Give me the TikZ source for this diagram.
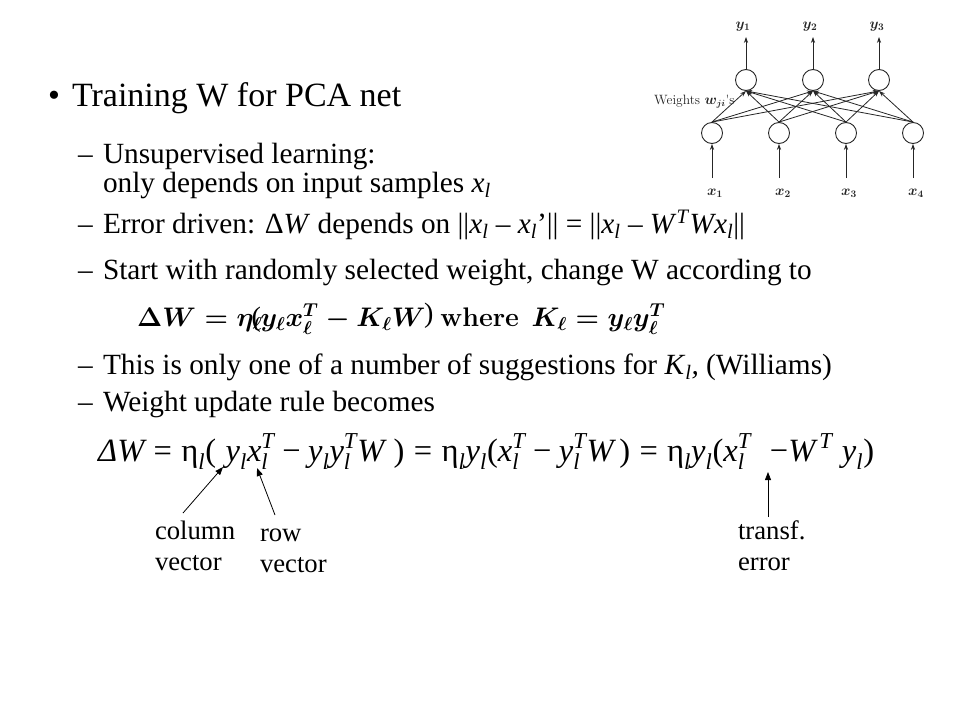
\documentclass[tikz,border=0pt]{standalone}
\usepackage[no-math]{fontspec}
\setmainfont{Liberation Serif}
\usepackage{amsmath,bm}
\usepackage{graphicx}
\usetikzlibrary{arrows.meta}
\newcommand\tmi[1]{\text{\normalfont\itshape #1}}
\newcommand\tmr[1]{\text{\normalfont #1}}
\newcommand\sbl{_{\tmi{l}}}
\newcommand\xsub{\textit{x}\textsubscript{\textit{l}}}
\definecolor{netc}{gray}{0.15}
\tikzset{
  txt/.style={anchor=base west, inner sep=0pt, outer sep=0pt, font=\fontsize{29.3}{34}\selectfont},
  ttl/.style={txt, font=\fontsize{34}{40}\selectfont},
  ann/.style={txt, font=\fontsize{26.7}{31}\selectfont},
  neuron/.style={circle, draw=netc, line width=0.9pt, minimum size=21pt, inner sep=0pt},
  netarrow/.style={draw=netc, line width=0.8pt, -{Stealth[length=6pt,width=4.2pt]}},
  netlab/.style={inner sep=0pt, text=netc, font=\fontsize{14}{16}\selectfont},
  annarrow/.style={draw=black, line width=0.8pt, -{Triangle[length=8pt,width=6pt]}}
}
\begin{document}
\begin{tikzpicture}[x=1pt,y=-1pt]
\fill[white] (0,0) rectangle (960,720);
\useasboundingbox (0,0) rectangle (960,720);

% ---- title and bullets
\node[ttl] (bul) at (48,106) {•};
\node[ttl] (title) at (72,106) {Training W for PCA net};

\node[txt] (d1) at (78,163) {–};
\node[txt] (t1) at (103,163) {Unsupervised learning:};
\node[txt] (t1b) at (103,192) {only depends on input samples \xsub};
\node[txt] (d2) at (78,233) {–};
\node[txt] (t2) at (103,233) {Error driven: Δ\textit{W} depends on ||\xsub{} – \xsub’|| = ||\xsub{} – \textit{W}\textsuperscript{\textit{T}}\textit{Wx}\textsubscript{\textit{l}}||};
\node[txt] (d3) at (78,279) {–};
\node[txt] (t3) at (103,279) {Start with randomly selected weight, change W according to};

\node[anchor=base west, inner sep=0pt] (f1) at (137,326) {\resizebox{528pt}{!}{\fontsize{26}{30}\selectfont\boldmath
 $\Delta W = \eta_\ell\kern-0.38em\text{\normalfont(}\kern-0.02em y_\ell x_\ell^T - K_\ell W\kern-0.05em\raisebox{0.12em}{\normalfont)}$\hspace{0.25em}$\mathbf{where}$\hspace{0.45em}$K_\ell = y_\ell y_\ell^T$}};

\node[txt] (d4) at (78,374) {–};
\node[txt] (t4) at (103,374) {This is only one of a number of suggestions for \textit{K}\textsubscript{\textit{l}}\textit{,} (Williams)};
\node[txt] (d5) at (78,411) {–};
\node[txt] (t5) at (103,411) {Weight update rule becomes};

\node[anchor=base west, inner sep=0pt] (f2) at (98,461) {\resizebox{776pt}{!}{\fontsize{24}{28}\selectfont
 $\tmi{Δ}\tmi{W} \mathrel{\tmr{=}} \tmr{η}\sbl\tmr{(}\;\tmi{y}\sbl\tmi{x}\sbl^{\tmi{T}} \mathbin{\tmr{−}} \tmi{y}\sbl\tmi{y}\sbl^{\tmi{T}}\tmi{W}\;\tmr{)} \mathrel{\tmr{=}} \tmr{η}\sbl\tmi{y}\sbl\tmr{(}\tmi{x}\sbl^{\tmi{T}} \mathbin{\tmr{−}} \tmi{y}\sbl^{\tmi{T}}\tmi{W}\,\tmr{)} \mathrel{\tmr{=}} \tmr{η}\sbl\tmi{y}\sbl\tmr{(}\tmi{x}\sbl^{\tmi{T}}\;\;\tmr{−}\tmi{W}^{\,\tmi{T}}\;\tmi{y}\sbl\tmr{)}$}};

% ---- annotations
\node[ann] (col1) at (155,539) {column};
\node[ann] (col2) at (155,570) {vector};
\node[ann] (row1) at (260,541) {row};
\node[ann] (row2) at (260,572) {vector};
\node[ann] (tr1) at (738,539) {transf.};
\node[ann] (tr2) at (738,570) {error};
\coordinate (colT) at (183,513);
\coordinate (colH) at (223,467);
\coordinate (rowT) at (275,515);
\coordinate (rowH) at (257,468);
\coordinate (trT) at (768,517);
\coordinate (trH) at (768,472);
\draw[annarrow] (colT) -- (colH);
\draw[annarrow] (rowT) -- (rowH);
\draw[annarrow] (trT) -- (trH);

% ---- network
\node[neuron] (o1) at (746,80) {};
\node[neuron] (o2) at (813,80) {};
\node[neuron] (o3) at (879,80) {};
\node[neuron] (i1) at (712,133) {};
\node[neuron] (i2) at (779,133) {};
\node[neuron] (i3) at (846,133) {};
\node[neuron] (i4) at (913,133) {};
\foreach \i in {1,2,3,4}{\foreach \j in {1,2,3}{\draw[netarrow] (i\i.north) -- (o\j.south);}}
\node[netlab] (y1) at (743,27) {$\bm{y_1}$};
\node[netlab] (y2) at (810,27) {$\bm{y_2}$};
\node[netlab] (y3) at (877,27) {$\bm{y_3}$};
\coordinate (ya1) at (746,37);
\coordinate (ya2) at (813,37);
\coordinate (ya3) at (879,37);
\draw[netarrow] (o1.north) -- (ya1);
\draw[netarrow] (o2.north) -- (ya2);
\draw[netarrow] (o3.north) -- (ya3);
\node[netlab] (x1) at (715,193) {$\bm{x_1}$};
\node[netlab] (x2) at (783,193) {$\bm{x_2}$};
\node[netlab] (x3) at (849,193) {$\bm{x_3}$};
\node[netlab] (x4) at (916,193) {$\bm{x_4}$};
\coordinate (xa1) at (712,178);
\coordinate (xa2) at (779,178);
\coordinate (xa3) at (846,178);
\coordinate (xa4) at (913,178);
\draw[netarrow] (xa1) -- (i1.south);
\draw[netarrow] (xa2) -- (i2.south);
\draw[netarrow] (xa3) -- (i3.south);
\draw[netarrow] (xa4) -- (i4.south);
\node[netlab, anchor=west, font=\fontsize{13.5}{15}\selectfont] (wlab) at (654,102) {\fontspec{Latin Modern Roman}Weights $\bm{w_{ji}}$'s};
\end{tikzpicture}
\end{document}
